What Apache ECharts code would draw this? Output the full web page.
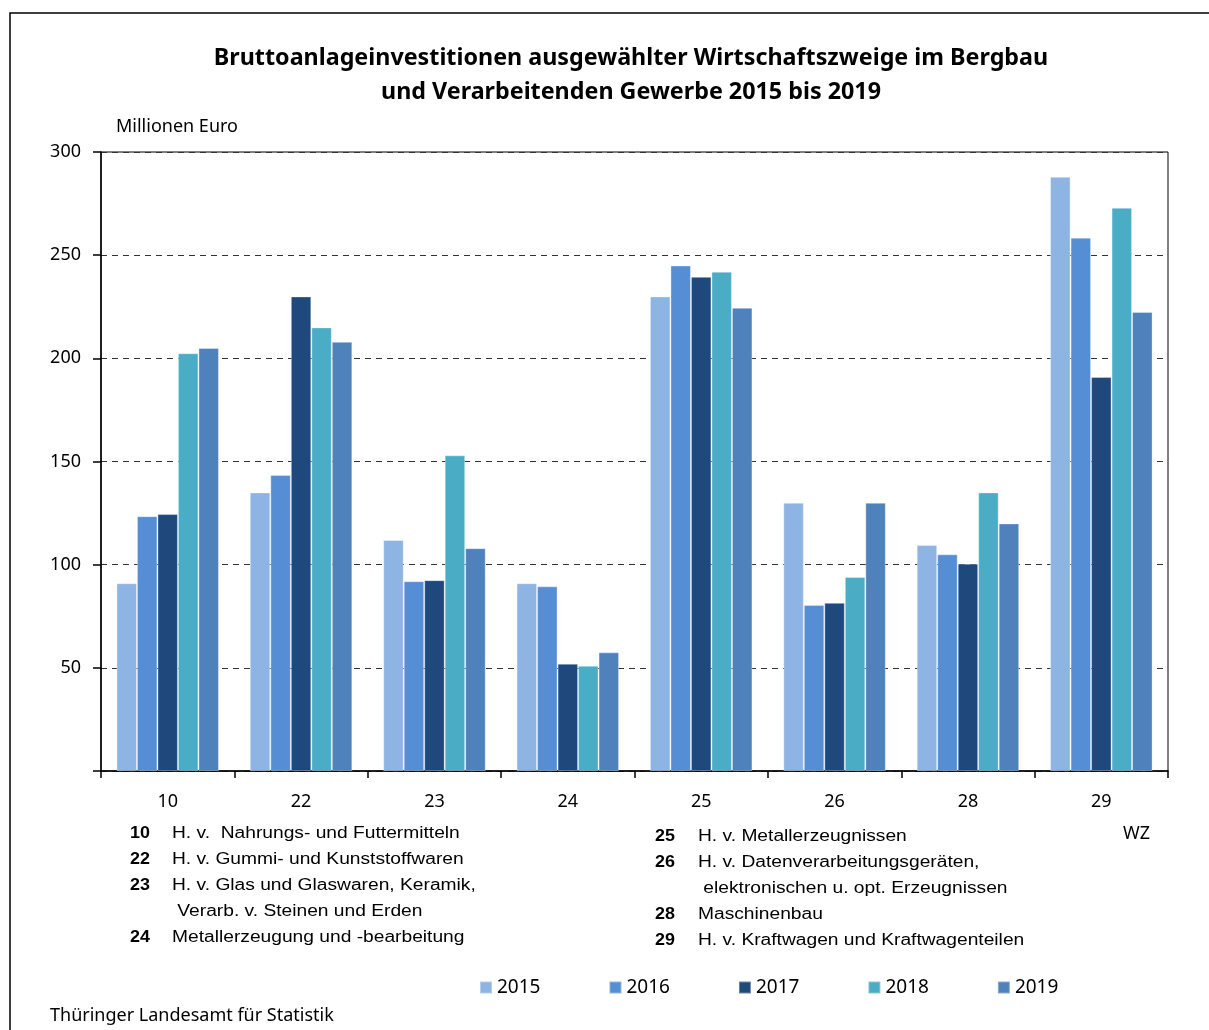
<!DOCTYPE html>
<html>
<head>
<meta charset="utf-8">
<script src="https://cdn.jsdelivr.net/npm/echarts@6/dist/echarts.min.js"></script>
<style>
  html, body { margin: 0; padding: 0; background: #fff; }
  #chart { width: 1209px; height: 1030px; }
</style>
</head>
<body>
<div id="chart"></div>
<script>
// Wirtschaftszweige (WZ codes)
var categories = ['10', '22', '23', '24', '25', '26', '28', '29'];
var years = ['2015', '2016', '2017', '2018', '2019'];
var colors = ['#8db4e2', '#558ed5', '#1f497d', '#4bacc6', '#4f81bd'];
var yTicks = [0, 50, 100, 150, 200, 250, 300];

// Millionen Euro
var v2015 = [91, 135, 112, 91, 230, 130, 109.5, 288];
var v2016 = [123.5, 143.5, 92, 89.5, 245, 80.5, 105, 258.5];
var v2017 = [124.5, 230, 92.5, 52, 239.5, 81.5, 100.5, 191];
var v2018 = [202.5, 215, 153, 51, 242, 94, 135, 273];
var v2019 = [205, 208, 108, 57.5, 224.5, 130, 120, 222.5];
var seriesValues = [v2015, v2016, v2017, v2018, v2019];

var notesLeft = [
	['10', 'H. v.  Nahrungs- und Futtermitteln'],
	['22', 'H. v. Gummi- und Kunststoffwaren'],
	['23', 'H. v. Glas und Glaswaren, Keramik,'],
	['', ' Verarb. v. Steinen und Erden'],
	['24', 'Metallerzeugung und -bearbeitung']
];
var notesRight = [
	['25', 'H. v. Metallerzeugnissen'],
	['26', 'H. v. Datenverarbeitungsgeräten,'],
	['', ' elektronischen u. opt. Erzeugnissen'],
	['28', 'Maschinenbau'],
	['29', 'H. v. Kraftwagen und Kraftwagenteilen']
];

var sansFont = '"Source Sans Pro", "Noto Sans", sans-serif';
var noteFont = '"Liberation Sans", Arial, sans-serif';

// the footnote lettering is stretched wide in the original
function noteTexts(list, xNum, xText, yStart) {
	var out = [];
	list.forEach(function(row, i) {
		var y = yStart + i * 26;
		if (row[0]) {
			out.push({
				type: 'text', x: xNum, y: y - 9, scaleX: 1.12,
				style: { text: row[0], font: 'bold 16px ' + noteFont, fill: '#000' }
			});
		}
		out.push({
			type: 'text', x: xText, y: y - 9, scaleX: 1.2,
			style: { text: row[1], font: '16px ' + noteFont, fill: '#000' }
		});
	});
	return out;
}

var chart = echarts.init(document.getElementById('chart'));

var option = {
	animation: false,
	backgroundColor: '#fff',
	color: colors,
	title: {
		text: 'Bruttoanlageinvestitionen ausgewählter Wirtschaftszweige im Bergbau\nund Verarbeitenden Gewerbe 2015 bis 2019',
		left: 626, top: 36, textAlign: 'center',
		textStyle: { fontFamily: sansFont, fontWeight: 'bold', fontSize: 23.3, lineHeight: 34, color: '#000' }
	},
	legend: {
		data: years,
		bottom: 28, left: 474,
		itemWidth: 12, itemHeight: 12, itemGap: 68,
		icon: 'rect',
		textStyle: { fontFamily: sansFont, fontSize: 19, color: '#000', padding: [0, 0, 0, 0] }
	},
	grid: {
		left: 101, right: 41, top: 152, bottom: 259,
		show: true, borderColor: '#000', borderWidth: 1
	},
	xAxis: {
		type: 'category',
		data: categories,
		axisLine: { lineStyle: { color: '#000', width: 1.5 } },
		axisTick: { show: true, length: 7, lineStyle: { color: '#000', width: 1.5 } },
		axisLabel: { margin: 22, fontFamily: sansFont, fontSize: 18, color: '#000' }
	},
	yAxis: {
		type: 'value',
		min: yTicks[0], max: yTicks[yTicks.length - 1], interval: 50,
		axisLine: { show: true, lineStyle: { color: '#000', width: 1.5 } },
		axisTick: { show: true, length: 8, lineStyle: { color: '#000', width: 1.5 } },
		axisLabel: {
			margin: 20, fontFamily: sansFont, fontSize: 18, color: '#000',
			formatter: function(v) { return v === 0 ? '' : String(v); }
		},
		splitLine: { show: true, lineStyle: { color: '#333', type: [6, 5], width: 1 } }
	},
	series: years.map(function(y, i) {
		return {
			name: y,
			type: 'bar',
			data: seriesValues[i],
			barWidth: 20.5,
			barGap: '0%',
			itemStyle: { color: colors[i], borderColor: 'rgba(255,255,255,0.35)', borderWidth: 1 }
		};
	}),
	graphic: [
		{
			type: 'rect', shape: { x: 10, y: 13, width: 1220, height: 1100 },
			style: { fill: 'none', stroke: '#000', lineWidth: 1.5 }, silent: true
		},
		{
			type: 'text', left: 116, top: 118,
			style: { text: 'Millionen Euro', font: '18px ' + sansFont, fill: '#000' }
		},
		{
			type: 'text', left: 1123, top: 825,
			style: { text: 'WZ', font: '18px ' + sansFont, fill: '#000' }
		},
		{
			type: 'text', left: 50, top: 1007,
			style: { text: 'Thüringer Landesamt für Statistik', font: '18px ' + sansFont, fill: '#000' }
		}
	].concat(noteTexts(notesLeft, 130, 172, 835), noteTexts(notesRight, 655, 698, 838))
};

chart.setOption(option);
</script>
</body>
</html>
